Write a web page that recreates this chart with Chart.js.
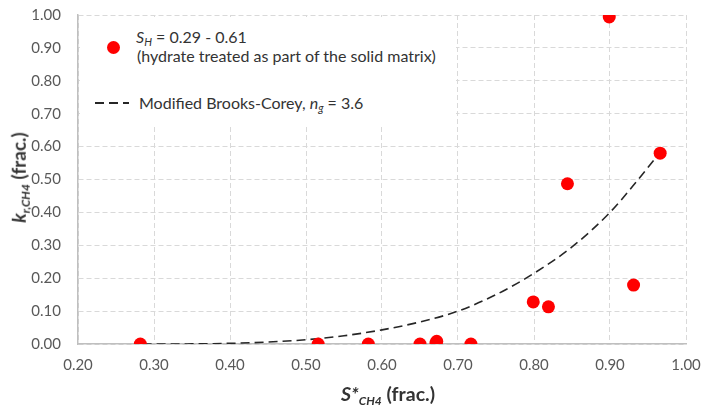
<!DOCTYPE html>
<html>
<head>
<meta charset="utf-8">
<script src="https://cdn.jsdelivr.net/npm/chart.js@4.4.1/dist/chart.umd.min.js"></script>
<style>
  html, body { margin: 0; padding: 0; background: #fff; }
  #wrap { position: relative; width: 704px; height: 406px; font-family: Lato, "Open Sans", sans-serif; }
  canvas { position: absolute; left: 0; top: 0; }
  .lg { position: absolute; background: #fff; left: 80px; top: 17px; width: 376px; height: 108px; }
  .t { position: absolute; font-size: 16px; color: #333; white-space: nowrap; line-height: 18px; }
  .t sub { font-size: 11px; vertical-align: -3px; line-height: 0; }
  .dot { position: absolute; left: 107px; top: 41px; width: 13px; height: 13px; border-radius: 50%; background: #ff0000; }
  .dash { position: absolute; left: 95px; top: 102px; width: 34px; height: 2px;
          background: repeating-linear-gradient(to right, #262626 0 9px, transparent 9px 14px); }
  .xt { position: absolute; font-weight: bold; font-size: 19.5px; color: #333; white-space: nowrap; }
  .xt sub { font-size: 12px; vertical-align: -4px; line-height: 0; }
  .yt { position: absolute; font-weight: bold; font-size: 19px; color: #333; white-space: nowrap; transform-origin: center center; }
  .yt sub { font-size: 12px; vertical-align: -4px; line-height: 0; }
</style>
</head>
<body>
<div id="wrap">
  <canvas id="c" width="704" height="406"></canvas>
  <div class="lg"></div>
  <div class="dot"></div>
  <div class="t" style="left:136px; top:28px;"><i>S<sub>H</sub></i> = 0.29 - 0.61</div>
  <div class="t" style="left:137px; top:47px;">(hydrate treated as part of the solid matrix)</div>
  <div class="dash"></div>
  <div class="t" style="left:139px; top:94px;">Modified Brooks-Corey, <i>n<sub>g</sub></i> = 3.6</div>
  <div class="xt" id="xt"><i>S*<sub>CH4</sub></i> (frac.)</div>
  <div class="yt" id="yt"><i>k<sub>r,CH4</sub></i> (frac.)</div>
</div>
<script>
// Measured data (S*CH4, kr,CH4)
const measX = [0.282, 0.516, 0.582, 0.650, 0.671, 0.672, 0.717, 0.799, 0.819, 0.844, 0.899, 0.931, 0.966];
const measY = [0.000, 0.000, 0.000, 0.000, 0.003, 0.008, 0.000, 0.128, 0.113, 0.487, 0.994, 0.179, 0.580];

// Modified Brooks-Corey curve
const curveX = [0.285, 0.35, 0.40, 0.45, 0.50, 0.55, 0.60, 0.65, 0.70, 0.75, 0.80, 0.85, 0.90, 0.93, 0.965];
const curveY = [0.000, 0.0003, 0.002, 0.006, 0.013, 0.025, 0.043, 0.067, 0.100, 0.150, 0.215, 0.295, 0.400, 0.480, 0.580];

// Axis tick settings
const xTicks = { min: 0.2, max: 1.0, step: 0.1 };
const yTicks = { min: 0.0, max: 1.0, step: 0.1 };

const gridColor = '#d9d9d9';
const tickFont = { family: 'Lato, "Open Sans", sans-serif', size: 15 };

function zeroPad(s) { s.paddingTop = 0; s.paddingBottom = 0; s.paddingLeft = 0; s.paddingRight = 0; }

const chart = new Chart(document.getElementById('c'), {
  type: 'scatter',
  data: {
    datasets: [
      {
        label: 'measured',
        data: measX.map((x, i) => ({ x: x, y: measY[i] })),
        backgroundColor: '#ff0000',
        borderWidth: 0,
        pointRadius: 6.5,
        pointHoverRadius: 6.5,
        order: 0
      },
      {
        label: 'curve',
        data: curveX.map((x, i) => ({ x: x, y: curveY[i] })),
        showLine: true,
        borderColor: '#262626',
        borderWidth: 1.6,
        borderDash: [9, 5],
        pointRadius: 0,
        cubicInterpolationMode: 'monotone',
        fill: false,
        order: 1
      }
    ]
  },
  options: {
    responsive: false,
    animation: false,
    events: [],
    layout: { padding: { left: 0, right: 18, top: 15, bottom: 0 } },
    plugins: { legend: { display: false }, tooltip: { enabled: false } },
    scales: {
      x: {
        type: 'linear',
        min: xTicks.min, max: xTicks.max,
        ticks: { stepSize: xTicks.step, color: '#595959', font: tickFont, padding: 12,
                 callback: v => v.toFixed(2) },
        grid: { color: gridColor, lineWidth: 1, drawTicks: false },
        border: { display: true, color: '#bfbfbf', width: 1.5, dash: [5, 3] },
        afterFit: s => { s.height = 62; zeroPad(s); }
      },
      y: {
        type: 'linear',
        min: yTicks.min, max: yTicks.max,
        ticks: { stepSize: yTicks.step, color: '#595959', font: tickFont, padding: 17,
                 callback: v => v.toFixed(2) },
        grid: { color: gridColor, lineWidth: 1, drawTicks: false },
        border: { display: true, color: '#bfbfbf', width: 1.5, dash: [5, 3] },
        afterFit: s => { s.width = 78; zeroPad(s); }
      }
    }
  }
});

// position axis titles
const xt = document.getElementById('xt');
xt.style.left = (388 - xt.offsetWidth / 2) + 'px';
xt.style.top = (393 - xt.offsetHeight / 2) + 'px';
const yt = document.getElementById('yt');
yt.style.left = (18 - yt.offsetWidth / 2) + 'px';
yt.style.top = (177 - yt.offsetHeight / 2) + 'px';
yt.style.transform = 'rotate(-90deg)';
</script>
</body>
</html>
